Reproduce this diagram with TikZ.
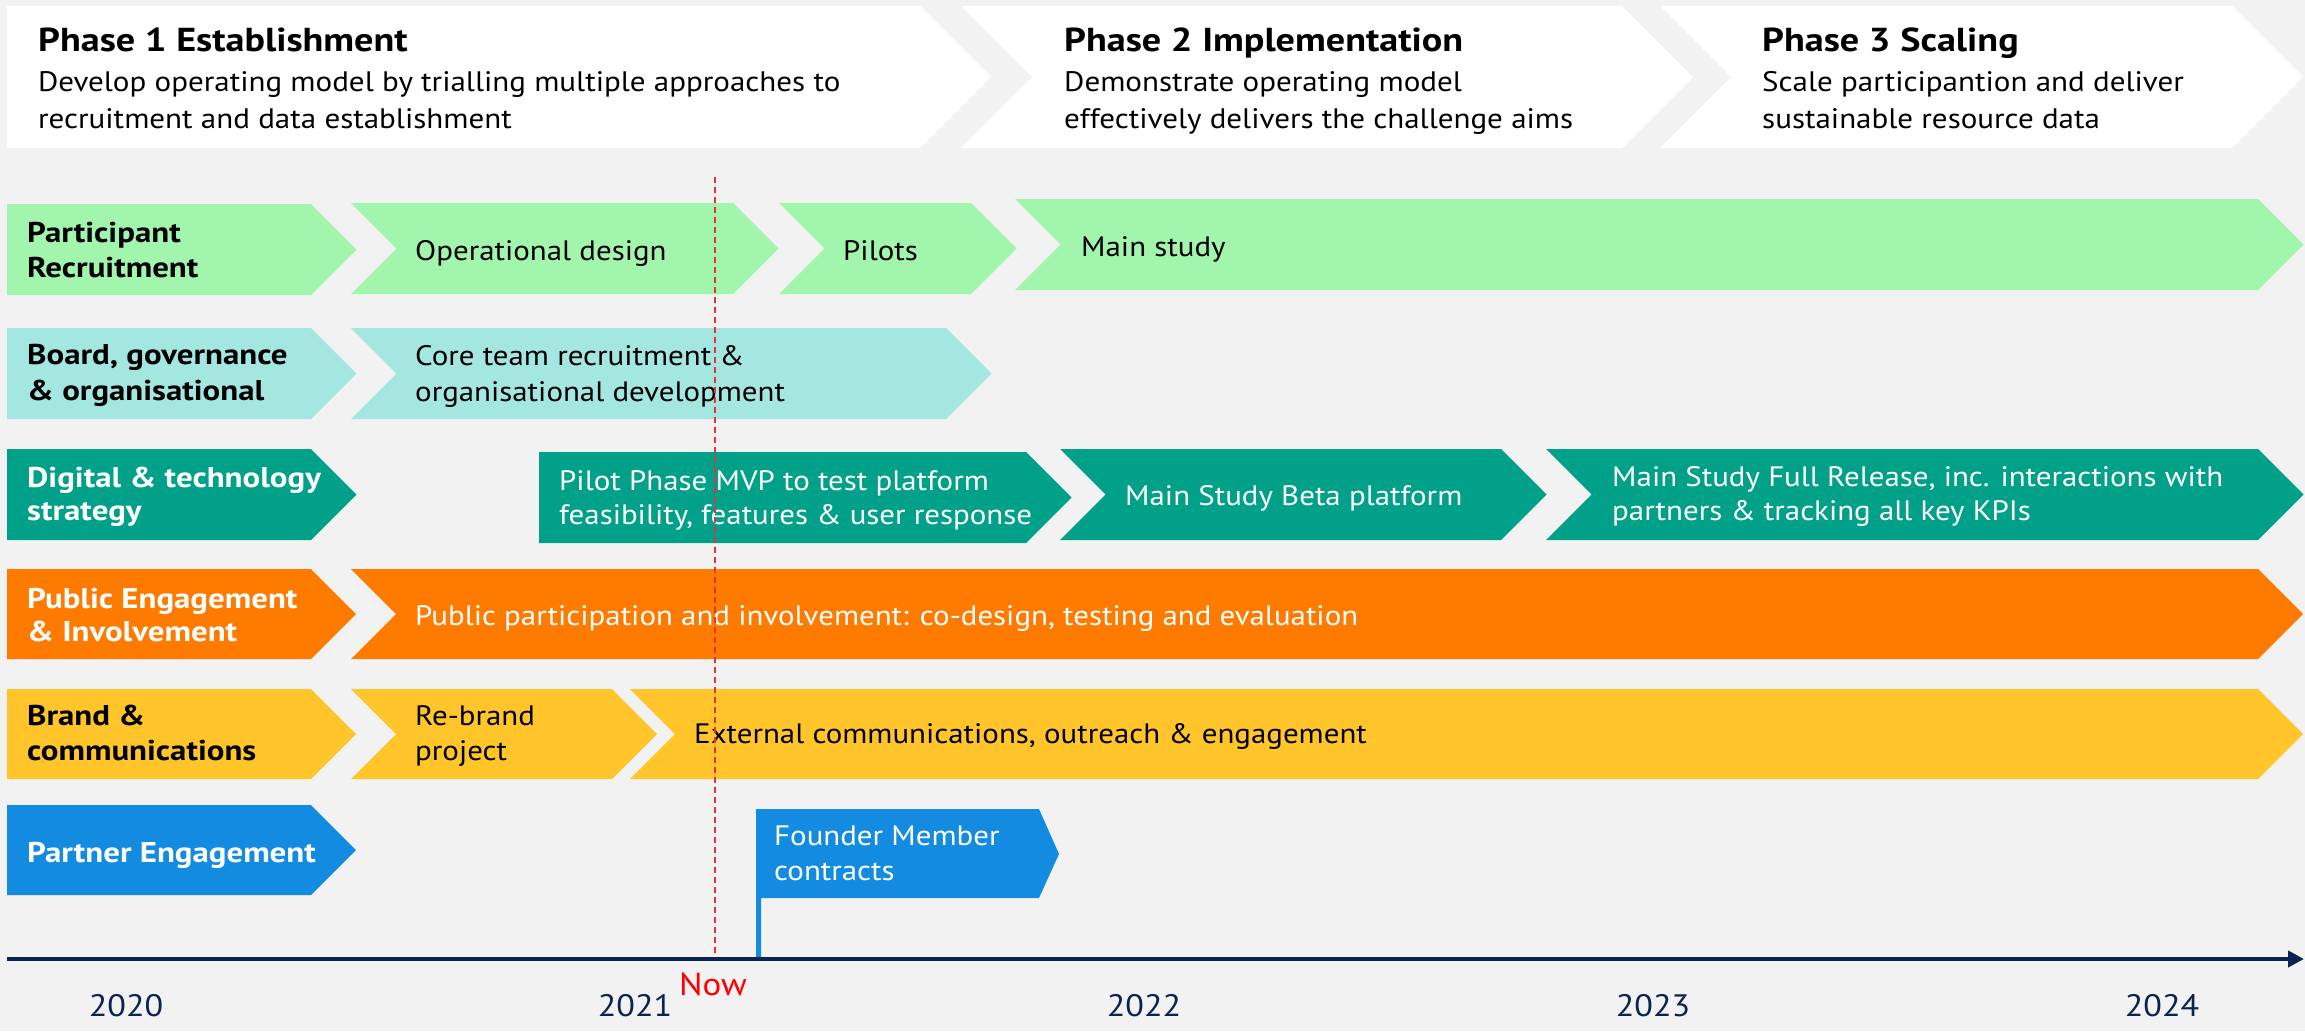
\documentclass[tikz,border=0pt]{standalone}
\usepackage{fontspec}
\setmainfont{PT Sans}[FakeStretch=1.10, BoldFeatures={FakeStretch=1.15}]
\usetikzlibrary{arrows.meta}
\definecolor{bg}{HTML}{F2F2F2}
\definecolor{cgreen}{HTML}{A2F5AC}
\definecolor{ccyan}{HTML}{A4E6E0}
\definecolor{cteal}{HTML}{00A089}
\definecolor{corange}{HTML}{FF7B00}
\definecolor{cyellow}{HTML}{FFC52A}
\definecolor{cblue}{HTML}{138BE0}
\definecolor{cnavy}{HTML}{0B2350}
\definecolor{cred}{HTML}{FF0000}
\definecolor{cdash}{HTML}{E8303A}
% notched chevron: colour, left x, flat right x, top y, bottom y
\newcommand\chevN[5]{\fill[#1] (#2,#4) -- (#3,#4) -- ({#3+(#5-#4)/2},{(#4+#5)/2}) -- (#3,#5) -- (#2,#5) -- ({#2+(#5-#4)/2},{(#4+#5)/2}) -- cycle;}
% flat-left chevron
\newcommand\chevF[5]{\fill[#1] (#2,#4) -- (#3,#4) -- ({#3+(#5-#4)/2},{(#4+#5)/2}) -- (#3,#5) -- (#2,#5) -- cycle;}
\newcommand\twol[3][35]{\vtop{\baselineskip=#1pt\lineskiplimit=-100pt\hbox{#2}\hbox{#3}}}
\tikzset{
  txt/.style={anchor=base west, inner sep=0pt, font=\fontsize{28.1}{34}\selectfont},
  lbl/.style={anchor=base west, inner sep=0pt, font=\fontsize{28.6}{34}\selectfont\bfseries},
  ptitle/.style={anchor=base west, inner sep=0pt, font=\fontsize{33.2}{38}\selectfont\bfseries},
  pdesc/.style={anchor=base west, inner sep=0pt, font=\fontsize{28.2}{37}\selectfont},
  year/.style={anchor=base, inner sep=0pt, text=cnavy, font=\fontsize{31}{40}\selectfont},
}
\begin{document}
\begin{tikzpicture}[x=1pt,y=-1pt]
\useasboundingbox (0,0) rectangle (2305,1031);
\fill[bg] (0,0) rectangle (2305,1031);
% phase banners
\chevF{white}{7}{920}{6}{148}
\chevN{white}{961}{1622}{6}{148}
\chevN{white}{1660}{2232}{6}{148}
\node[ptitle] (p1t) at (38,51) {Phase 1 Establishment};
\node[pdesc] (p1d) at (38,91) {\twol[37]{Develop operating model by trialling multiple approaches to}{recruitment and data establishment}};
\node[ptitle] (p2t) at (1064,51) {Phase 2 Implementation};
\node[pdesc] (p2d) at (1064,91) {\twol[37]{Demonstrate operating model}{effectively delivers the challenge aims}};
\node[ptitle] (p3t) at (1762,51) {Phase 3 Scaling};
\node[pdesc] (p3d) at (1762,91) {\twol[37]{Scale participantion and deliver}{sustainable resource data}};
% row 1
\chevF{cgreen}{7}{311}{204}{295}
\chevN{cgreen}{351}{733}{203}{294}
\chevN{cgreen}{779}{971}{203}{294}
\chevN{cgreen}{1015}{2258}{199}{290}
\node[lbl] (r1l) at (27,242) {\twol{Participant}{Recruitment}};
\node[txt] (r1a) at (415,260) {Operational design};
\node[txt] (r1b) at (843,260) {Pilots};
\node[txt] (r1c) at (1081,256) {Main study};
% row 2
\chevF{ccyan}{7}{311}{328}{419}
\chevN{ccyan}{351}{946}{328}{419}
\node[lbl] (r2l) at (27,364) {\twol[36]{Board, governance}{\& organisational}};
\node[txt] (r2a) at (415,365) {\twol[36]{Core team recruitment \&}{organisational development}};
% row 3
\chevF{cteal}{7}{311}{449}{540}
\chevF{cteal}{539}{1026}{452}{543}
\chevN{cteal}{1060}{1501}{449}{540}
\chevN{cteal}{1546}{2258}{449}{540}
\node[lbl,text=white] (r3l) at (27,487) {\twol[33]{Digital \& technology}{strategy}};
\node[txt,text=white] (r3a) at (559,490) {\twol[34]{Pilot Phase MVP to test platform}{feasibility, features \& user response}};
\node[txt,text=white] (r3b) at (1125,505) {Main Study Beta platform};
\node[txt,text=white] (r3c) at (1612,486) {\twol[34]{Main Study Full Release, inc. interactions with}{partners \& tracking all key KPIs}};
% row 4
\chevF{corange}{7}{311}{569}{659}
\chevN{corange}{351}{2258}{569}{659}
\node[lbl,text=white] (r4l) at (27,608) {\twol[33]{Public Engagement}{\& Involvement}};
\node[txt,text=white] (r4a) at (415,625) {Public participation and involvement: co-design, testing and evaluation};
% row 5
\chevF{cyellow}{7}{311}{689}{779}
\chevN{cyellow}{351}{612}{689}{779}
\chevN{cyellow}{630}{2258}{689}{779}
\node[lbl] (r5l) at (27,725) {\twol{Brand \&}{communications}};
\node[txt] (r5a) at (415,725) {\twol{Re-brand}{project}};
\node[txt] (r5b) at (694,743) {External communications, outreach \& engagement};
% row 6
\chevF{cblue}{7}{311}{805}{895}
\node[lbl,text=white] (r6l) at (27,862) {Partner Engagement};
\fill[cblue] (756,809) -- (1039,809) -- (1059,854) -- (1039,898) -- (761,898) -- (761,959) -- (756,959) -- cycle;
\node[txt,text=white] (r6a) at (774,845) {\twol{Founder Member}{contracts}};
% now line
\coordinate (now0) at (715,177);
\coordinate (now1) at (715,959);
\draw[cdash, line width=1.6pt, dash pattern=on 6pt off 4pt] (now0) -- (now1);
% axis
\coordinate (ax0) at (7,959);
\coordinate (ax1) at (2304,959);
\draw[cnavy, line width=4pt, -{Triangle[length=16pt,width=16pt]}] (ax0) -- (ax1);
\node[year] (y20) at (126,1016) {2020};
\node[year] (y21) at (635,1016) {2021};
\node[year] (y22) at (1144,1016) {2022};
\node[year] (y23) at (1653,1016) {2023};
\node[year] (y24) at (2162,1016) {2024};
\node[anchor=base west, inner sep=0pt, text=cred, font=\fontsize{31.8}{36}\selectfont] (now) at (679,995) {Now};
\end{tikzpicture}
\end{document}
